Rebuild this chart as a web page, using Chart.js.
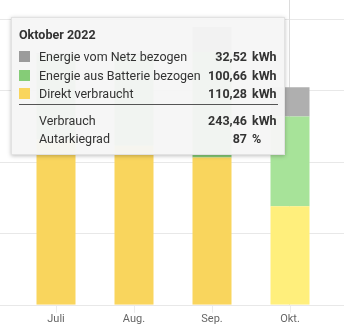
<!DOCTYPE html>
<html>
<head>
<meta charset="utf-8">
<script src="https://cdn.jsdelivr.net/npm/chart.js@4"></script>
<style>
  body { margin: 0; background: #fff; font-family: Roboto, sans-serif; }
  #wrap { position: relative; width: 344px; height: 331px; }
  #tip {
    position: absolute; left: 11px; top: 17px; width: 274px; height: 138px;
    box-sizing: border-box; padding: 9px 7px 0 7px;
    background: rgba(246,246,246,0.96); border: 1px solid #e2e2e2;
    box-shadow: 0 1px 4px rgba(0,0,0,0.25); color: #333; font-size: 12.5px;
  }
  #tip .title { font-weight: bold; line-height: 18px; height: 18px; margin-bottom: 4px; margin-top: -1px; }
  #tip table { border-collapse: collapse; width: 259px; }
  #tip td { padding: 0; height: 18.5px; line-height: 18.5px; white-space: nowrap; }
  #tip td.sw { width: 20px; }
  #tip td.sw span { display: inline-block; width: 11px; height: 11px; vertical-align: -1px; }
  #tip td.num { text-align: right; font-weight: bold; }
  #tip td.unit { width: 26px; padding-left: 5px; font-weight: bold; }
  #tip tr.last td { border-bottom: 1px solid #555; }
  #tip tr.gap td { height: 7px; }
</style>
</head>
<body>
<div id="wrap">
  <canvas id="chart" width="344" height="331"></canvas>
  <div id="tip"></div>
</div>
<script>
const labels = ['Juli', 'Aug.', 'Sep.', 'Okt.'];
const netz = [2, 4, 28, 32.52];
const batterie = [95, 100, 118, 100.66];
const direkt = [185, 178, 165, 110.28];
const seriesNames = ['Energie vom Netz bezogen', 'Energie aus Batterie bezogen', 'Direkt verbraucht'];
const tooltipTitle = 'Oktober 2022';
const activeIndex = 3;

const colors = { netz: '#9b9b9b', batterie: '#85cc77', direkt: '#f9d55d' };
const hoverColors = { netz: '#afafaf', batterie: '#a7e399', direkt: '#ffef7c' };

// full width horizontal grid lines
const gridPlugin = {
  id: 'fullGrid',
  beforeDatasetsDraw(chart) {
    const y = chart.scales.y;
    const ctx = chart.ctx;
    ctx.save();
    ctx.strokeStyle = '#e8e8e8';
    ctx.lineWidth = 1;
    y.ticks.forEach(t => {
      const py = Math.round(y.getPixelForValue(t.value)) + 0.5;
      ctx.beginPath();
      ctx.moveTo(0, py);
      ctx.lineTo(chart.width, py);
      ctx.stroke();
    });
    // crosshair on hovered month
    const px = Math.round(chart.scales.x.getPixelForValue(activeIndex)) - 0.5;
    ctx.strokeStyle = '#dcdcdc';
    ctx.beginPath();
    ctx.moveTo(px, 0);
    ctx.lineTo(px, chart.chartArea.bottom);
    ctx.stroke();
    ctx.restore();
  }
};

const ctx = document.getElementById('chart');

const chart = new Chart(ctx, {
  type: 'bar',
  data: {
    labels: labels,
    datasets: [
      { label: seriesNames[2], data: direkt, backgroundColor: colors.direkt, hoverBackgroundColor: hoverColors.direkt },
      { label: seriesNames[1], data: batterie, backgroundColor: colors.batterie, hoverBackgroundColor: hoverColors.batterie },
      { label: seriesNames[0], data: netz, backgroundColor: colors.netz, hoverBackgroundColor: hoverColors.netz }
    ]
  },
  options: {
    responsive: false,
    animation: false,
    events: [],
    barPercentage: 0.625,
    categoryPercentage: 0.8,
    layout: { padding: { top: 19, left: 9, right: 15, bottom: 5 } },
    scales: {
      x: {
        stacked: true,
        border: { display: false },
        grid: { offset: false, drawOnChartArea: false, drawTicks: true, tickLength: 8, color: '#ececec' },
        ticks: { color: '#666', font: { family: 'Roboto', size: 11 }, padding: 0 }
      },
      y: {
        stacked: true,
        min: 0,
        max: 320,
        ticks: { display: false, stepSize: 80 },
        grid: { display: false },
        border: { display: false }
      }
    },
    plugins: {
      legend: { display: false },
      tooltip: { enabled: false }
    }
  },
  plugins: [gridPlugin]
});

chart.setActiveElements([0, 1, 2].map(d => ({ datasetIndex: d, index: activeIndex })));
chart.update();

// tooltip box for the hovered month
const fmt = v => v.toLocaleString('de-DE', { minimumFractionDigits: 2, maximumFractionDigits: 2 });
const rows = [
  [colors.netz, seriesNames[0], netz[activeIndex]],
  [colors.batterie, seriesNames[1], batterie[activeIndex]],
  [colors.direkt, seriesNames[2], direkt[activeIndex]]
];
const total = netz[activeIndex] + batterie[activeIndex] + direkt[activeIndex];
const autarkie = Math.round((batterie[activeIndex] + direkt[activeIndex]) / total * 100);

let html = '<div class="title">' + tooltipTitle + '</div><table>';
rows.forEach((r, i) => {
  html += '<tr' + (i === rows.length - 1 ? ' class="last"' : '') + '><td class="sw"><span style="background:' + r[0] + '"></span></td>' +
    '<td>' + r[1] + '</td><td class="num">' + fmt(r[2]) + '</td><td class="unit">kWh</td></tr>';
});
html += '<tr class="gap"><td colspan="4"></td></tr>';
html += '<tr><td></td><td>Verbrauch</td><td class="num">' + fmt(total) + '</td><td class="unit">kWh</td></tr>';
html += '<tr><td></td><td>Autarkiegrad</td><td class="num">' + autarkie + '</td><td class="unit">%</td></tr>';
html += '</table>';
document.getElementById('tip').innerHTML = html;
</script>
</body>
</html>
